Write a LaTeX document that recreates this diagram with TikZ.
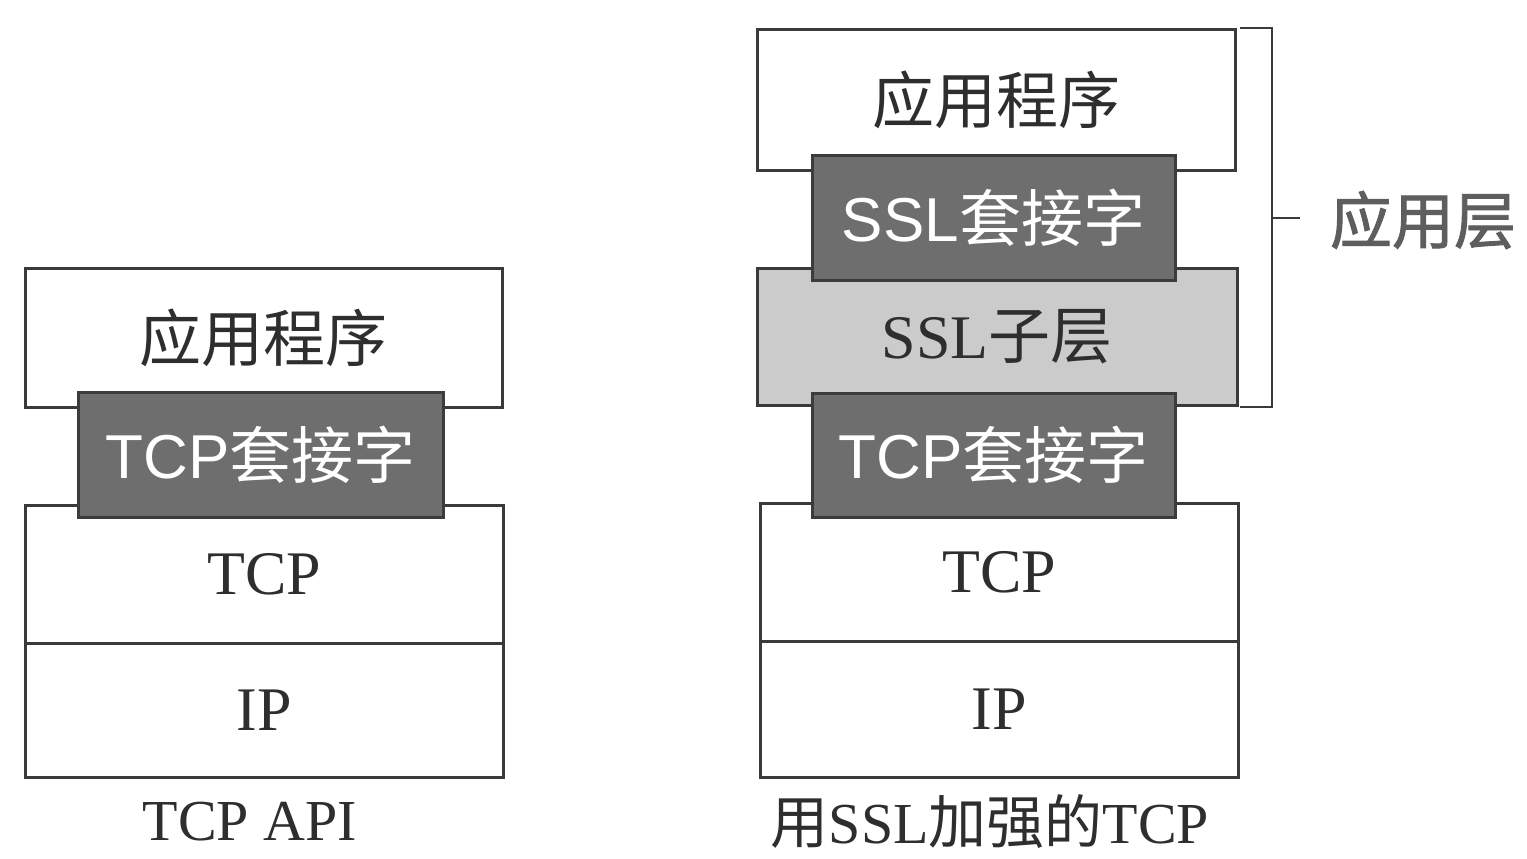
\documentclass[tikz,border=0pt]{standalone}
\usepackage{fontspec}
\setmainfont{Liberation Serif}
\newfontfamily\cjk{Noto Sans CJK SC}
\newfontfamily\cjkb[FakeBold=1.5]{Noto Sans CJK SC}
\newfontfamily\lsans{Liberation Sans}
\definecolor{linec}{HTML}{3A3A3A}
\definecolor{darkfill}{HTML}{6E6E6E}
\definecolor{darkline}{HTML}{3C3C3C}
\definecolor{lightfill}{HTML}{CBCBCB}
\definecolor{txtc}{HTML}{2E2E2E}
\definecolor{graytxt}{HTML}{5E5E5E}
\begin{document}
\begin{tikzpicture}[x=1pt,y=-1pt,
  every node/.style={inner sep=0pt, outer sep=0pt},
  big/.style={font=\fontsize{62}{62}\selectfont},
  plainbox/.style={draw=linec, line width=3pt, fill=white, rectangle, text=txtc, big},
  sockbox/.style={draw=darkline, line width=3pt, fill=darkfill, rectangle, text=white, big},
  subbox/.style={draw=linec, line width=3pt, fill=lightfill, rectangle, text=txtc, big},
  bracket/.style={draw=linec, line width=2.6pt},
  caption/.style={text=txtc, font=\fontsize{58}{58}\selectfont}]
\useasboundingbox (0,0) rectangle (1527,859);
\fill[white] (0,0) rectangle (1527,859);
% left stack
\node[plainbox, minimum width=477pt, minimum height=139pt] (lapp) at (263.5,337.5) {\cjk 应用程序};
\node[plainbox, minimum width=478pt, minimum height=138pt] (ltcp) at (264,574) {TCP};
\node[plainbox, minimum width=478pt, minimum height=134pt] (lip) at (264,710) {IP};
\node[sockbox, minimum width=365pt, minimum height=125pt] (lsock) at (260.5,454.5) {\lsans TCP\cjk 套接字};
\node[caption] (lcap) at (250,822) {TCP API};
% right stack
\node[plainbox, minimum width=478pt, minimum height=140pt] (rapp) at (996,100) {\cjk 应用程序};
\node[subbox, minimum width=480pt, minimum height=137pt] (rsub) at (997,336.5) {SSL{\cjk 子层}};
\node[sockbox, minimum width=363pt, minimum height=125pt] (rssl) at (993.5,217.5) {\lsans SSL\cjk 套接字};
\node[plainbox, minimum width=478pt, minimum height=138pt] (rtcp) at (999,572) {TCP};
\node[plainbox, minimum width=478pt, minimum height=136pt] (rip) at (999,709) {IP};
\node[sockbox, minimum width=363pt, minimum height=124pt] (rsock) at (993.5,455) {\lsans TCP\cjk 套接字};
\node[caption] (rcap) at (990,822) {{\cjk 用}SSL{\cjk 加强的}TCP};
% bracket
\coordinate (b1) at (1240,28);
\coordinate (b2) at (1272,28);
\coordinate (b3) at (1272,407);
\coordinate (b4) at (1240,407);
\coordinate (bm) at (1272,218);
\coordinate (bt) at (1300,218);
\draw[bracket] (b1) -- (b2) -- (b3) -- (b4);
\draw[bracket] (bm) -- (bt);
\node[text=graytxt, big] (applayer) at (1423,220) {\cjkb 应用层};
\end{tikzpicture}
\end{document}
